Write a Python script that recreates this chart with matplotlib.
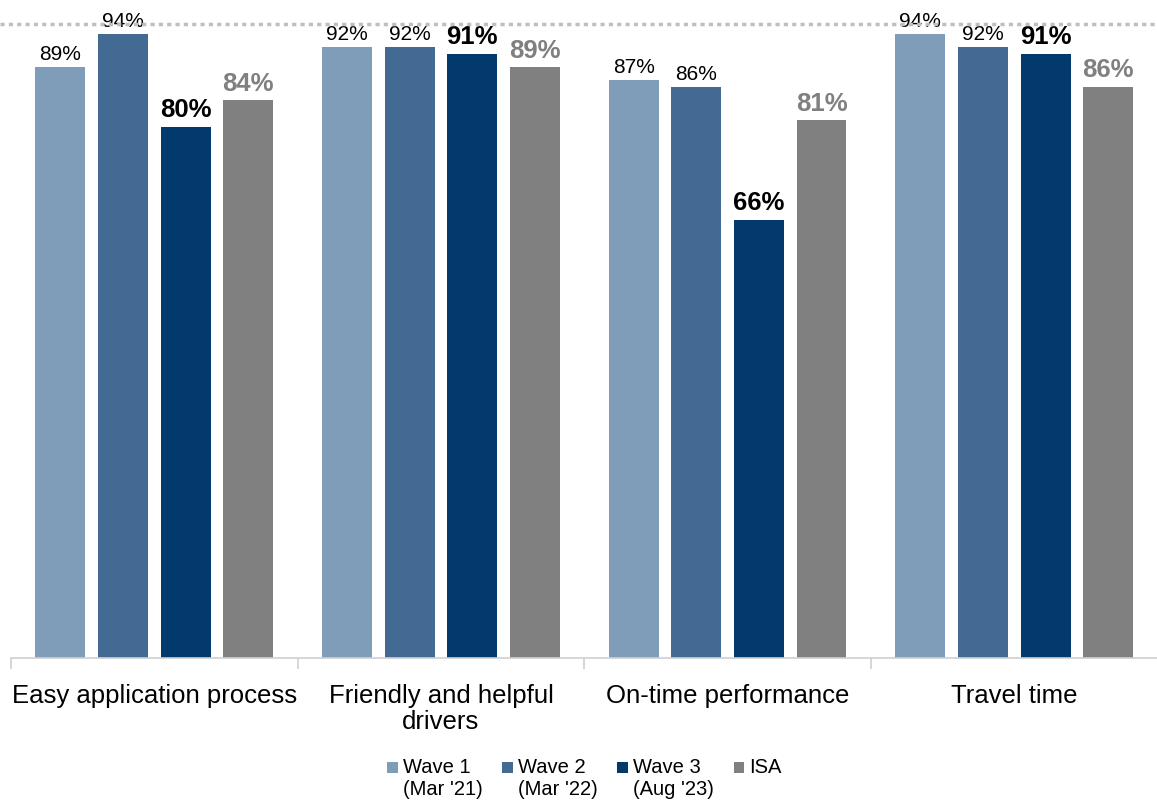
import numpy as np
import matplotlib.pyplot as plt
from matplotlib.transforms import blended_transform_factory
from matplotlib.lines import Line2D
from matplotlib.patches import Rectangle
from matplotlib.legend_handler import HandlerPatch, update_from_first_child

plt.rcParams['font.family'] = ['Liberation Sans', 'DejaVu Sans']

categories = ['Easy application process', 'Friendly and helpful\ndrivers',
              'On-time performance', 'Travel time']
series = ["Wave 1\n(Mar '21)", "Wave 2\n(Mar '22)", "Wave 3\n(Aug '23)", 'ISA\n ']
wave1 = [89, 92, 87, 94]
wave2 = [94, 92, 86, 92]
wave3 = [80, 91, 66, 91]
isa = [84, 89, 81, 86]
top_line = 95.5

colors = ['#7f9cb8', '#426a93', '#023a6e', '#808080']
label_colors = ['black', 'black', 'black', '#808080']
label_weights = ['normal', 'normal', 'bold', 'bold']
label_sizes = [15, 15, 18.5, 18.5]
label_pad = [3, 3, 4, 4]

fig = plt.figure(figsize=(11.57, 8.04), dpi=100)
ax = fig.add_axes([0.0095, 0.1803, 0.991, 0.7928])

x = np.arange(len(categories))
width = 0.174
step = 0.2185
offsets = (np.arange(4) - 1.5) * step

containers = []
for i, vals in enumerate([wave1, wave2, wave3, isa]):
    bars = ax.bar(x + offsets[i], vals, width, color=colors[i], label=series[i])
    containers.append(bars)
    for b, v in zip(bars, vals):
        ax.annotate(f'{v}%', (b.get_x() + b.get_width() / 2, v),
                    xytext=(0, label_pad[i]), textcoords='offset points',
                    ha='center', va='bottom', fontsize=label_sizes[i],
                    color=label_colors[i], fontweight=label_weights[i])

ax.set_xlim(-0.5, 3.5)
ax.set_ylim(0, 96)

# dotted reference line across the full width
trans = blended_transform_factory(fig.transFigure, ax.transData)
fig.add_artist(Line2D([0, 1], [top_line, top_line], transform=trans,
                      color='#bfbfbf', linewidth=2.5, linestyle=(0, (1.2, 1.2))))

for s in ['top', 'right', 'left']:
    ax.spines[s].set_visible(False)
ax.spines['bottom'].set_color('#d0d0d0')
ax.spines['bottom'].set_linewidth(1.2)
ax.set_yticks([])

ax.set_xticks(x)
ax.set_xticklabels(categories, fontsize=18.5, linespacing=1.1)
ax.tick_params(axis='x', which='major', length=0, pad=18)
ax.set_xticks(np.arange(-0.5, 4, 1), minor=True)
ax.tick_params(axis='x', which='minor', length=8, color='#d0d0d0', width=1.2)


# legend squares sit next to the first line of each two-line label
def top_square(legend, orig_handle, xdescent, ydescent, width, height, fontsize):
    return Rectangle((-xdescent, -ydescent + 7.5), width, height)


handler = HandlerPatch(patch_func=top_square, update_func=update_from_first_child)
leg = ax.legend(loc='upper center', bbox_to_anchor=(0.5, -0.143), ncol=4,
                frameon=False, fontsize=14.5, handlelength=0.5, handleheight=0.5,
                handletextpad=0.25, columnspacing=1.0, borderaxespad=0,
                handler_map={c: handler for c in containers})

fig.savefig('out.png', dpi=100)
